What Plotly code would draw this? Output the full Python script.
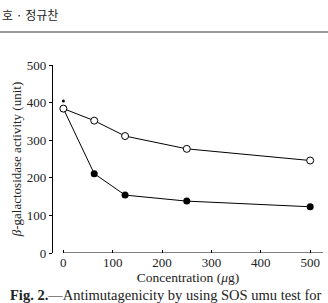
import plotly.graph_objects as go

concentration = [0, 62.5, 125, 250, 500]
control_activity = [384, 352, 311, 277, 246]
treated_activity = [384, 211, 154, 138, 123]
star_x = [0]
star_y = [404]
x_ticks = [0, 100, 200, 300, 400, 500]
y_ticks = [0, 100, 200, 300, 400, 500]

SERIF = "'Liberation Serif', 'DejaVu Serif', serif"

fig = go.Figure()
fig.add_trace(go.Scatter(
    x=concentration, y=treated_activity, mode="lines+markers",
    line=dict(color="black", width=1),
    marker=dict(symbol="circle", size=7, color="black"),
    cliponaxis=False, showlegend=False))
fig.add_trace(go.Scatter(
    x=concentration, y=control_activity, mode="lines+markers",
    line=dict(color="black", width=1),
    marker=dict(symbol="circle", size=7, color="white", line=dict(color="black", width=1)),
    cliponaxis=False, showlegend=False))
fig.add_trace(go.Scatter(
    x=star_x, y=star_y, mode="markers",
    marker=dict(symbol="circle", size=3, color="black"),
    cliponaxis=False, showlegend=False))

fig.update_layout(
    width=328, height=303,
    margin=dict(l=53, r=5, t=65, b=50),
    paper_bgcolor="white", plot_bgcolor="white",
    font=dict(family=SERIF, color="#222", size=13),
    xaxis=dict(range=[-21, 526], tickvals=x_ticks, ticks="inside", ticklen=3,
               tickcolor="black", showline=False, showgrid=False, zeroline=False,
               tickfont=dict(size=13, family=SERIF),
               title=dict(text="Concentration (<i>μ</i>g)", standoff=0,
                          font=dict(size=13.5, family=SERIF))),
    yaxis=dict(range=[0, 500], tickvals=y_ticks, ticks="outside", ticklen=3,
               tickcolor="black", showline=True, linecolor="black", linewidth=1.2,
               showgrid=False, zeroline=False,
               tickfont=dict(size=13, family=SERIF),
               title=dict(text="<i>β</i>-galactosidase activity (unit)", standoff=2,
                          font=dict(size=13, family=SERIF))),
)
# separate x axis baseline starting at 0
fig.add_shape(type="line", xref="x", yref="y", x0=0, x1=526, y0=0, y1=0,
              line=dict(color="black", width=1.2))
# header
fig.add_annotation(text="호 · 정규찬", xref="paper", yref="paper", x=-53/270, y=1 + (65 - 14) / 188,
                   xanchor="left", yanchor="middle", showarrow=False,
                   font=dict(family="Noto Sans CJK KR", size=12, color="#222"))
fig.add_shape(type="line", xref="paper", yref="paper", x0=-53/270, x1=1 + 5/270,
              y0=1 + (65 - 32) / 188, y1=1 + (65 - 32) / 188,
              line=dict(color="#777", width=1.5))
# caption
fig.add_annotation(text="<b>Fig. 2.</b>—Antimutagenicity by using SOS umu test for",
                   xref="paper", yref="paper", x=-45/270, y=-(295 - 253) / 188,
                   xanchor="left", yanchor="middle", showarrow=False,
                   font=dict(family=SERIF, size=14.5, color="#222"))

fig.write_html("out.html")
